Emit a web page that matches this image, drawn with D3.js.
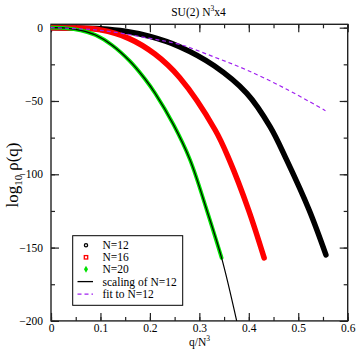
<!DOCTYPE html>
<html><head><meta charset="utf-8">
<script src="https://cdn.jsdelivr.net/npm/d3@7"></script>
<style>body{margin:0;background:#fff}svg{display:block}text{font-family:"Liberation Serif","Times New Roman",serif}</style>
</head><body>
<svg id="c" width="356" height="354"></svg>
<script>
// data
const n12 = [[0,0],[0.05,-0.2],[0.1,-0.8],[0.15,-2.5],[0.2,-6],[0.26,-13],[0.33,-26],[0.396,-44.8],[0.443,-67.5],[0.4765,-90.2],[0.522,-124.4],[0.556,-155]];
const n16 = [[0,0],[0.05,-0.3],[0.1,-1.5],[0.157,-7.3],[0.21,-18],[0.26,-34],[0.332,-69.8],[0.3606,-90.2],[0.3996,-124.4],[0.431,-157]];
const n20 = [[0,0],[0.03,-0.3],[0.06,-1.8],[0.09,-5],[0.123,-11.8],[0.16,-23],[0.19,-35],[0.2105,-44.7],[0.2475,-66],[0.281,-90],[0.315,-124.4],[0.345,-157]];
const scaling12 = [[0,0],[0.03,-0.3],[0.06,-1.8],[0.09,-5],[0.123,-11.8],[0.16,-23],[0.19,-35],[0.2105,-44.7],[0.2475,-66],[0.281,-90],[0.315,-124.4],[0.345,-157],[0.3755,-200]];
const fit12 = [[0,0],[0.1,-1.8],[0.2,-7.3],[0.261,-11.5],[0.33,-20],[0.396,-28.9],[0.4766,-42],[0.555,-56.6]];
const xTicks = [0,0.1,0.2,0.3,0.4,0.5,0.6];
const yTicks = [0,-50,-100,-150,-200];
const legendLabels = ["N=12","N=16","N=20","scaling of N=12","fit to N=12"];

const svg = d3.select("#c");
const L=51, R=347.7, T=24.3, B=320.9;
const x = d3.scaleLinear().domain([0,0.6]).range([L,R]);
const y = d3.scaleLinear().domain([-200,2.3]).range([B,T]);

svg.append("clipPath").attr("id","clip").append("rect").attr("x",L).attr("y",T).attr("width",R-L).attr("height",B-T);

// axes (inward ticks on all sides)
const axisCol="#222";
const xMinor = d3.range(0,0.6001,0.05);
const yMinor = d3.range(-200,0.001,25);
function styleAxis(g){g.select(".domain").remove();g.selectAll("line").attr("stroke",axisCol).attr("stroke-width",1.2);}
svg.append("g").attr("transform",`translate(0,${B})`).call(d3.axisBottom(x).tickValues(xMinor).tickSize(-4).tickFormat("")).call(styleAxis);
svg.append("g").attr("transform",`translate(0,${B})`).call(d3.axisBottom(x).tickValues(xTicks).tickSize(-8).tickPadding(3).tickFormat(d=>d===0?"0":d3.format(".1f")(d))).call(styleAxis)
  .selectAll("text").attr("font-size",11.5).attr("fill","#000");
svg.append("g").attr("transform",`translate(0,${T})`).call(d3.axisTop(x).tickValues(xMinor).tickSize(-4).tickFormat("")).call(styleAxis);
svg.append("g").attr("transform",`translate(0,${T})`).call(d3.axisTop(x).tickValues(xTicks).tickSize(-8).tickFormat("")).call(styleAxis);
svg.append("g").attr("transform",`translate(${L},0)`).call(d3.axisLeft(y).tickValues(yMinor).tickSize(-4).tickFormat("")).call(styleAxis);
svg.append("g").attr("transform",`translate(${L},0)`).call(d3.axisLeft(y).tickValues(yTicks).tickSize(-8).tickPadding(8).tickFormat(d3.format("d"))).call(styleAxis)
  .selectAll("text").attr("font-size",11.5).attr("fill","#000");
svg.append("g").attr("transform",`translate(${R},0)`).call(d3.axisRight(y).tickValues(yMinor).tickSize(-4).tickFormat("")).call(styleAxis);
svg.append("g").attr("transform",`translate(${R},0)`).call(d3.axisRight(y).tickValues(yTicks).tickSize(-8).tickFormat("")).call(styleAxis);
svg.append("rect").attr("x",L).attr("y",T).attr("width",R-L).attr("height",B-T).attr("fill","none").attr("stroke",axisCol).attr("stroke-width",1.4);

const line = d3.line().x(d=>x(d[0])).y(d=>y(d[1])).curve(d3.curveCatmullRom.alpha(0.5));
const g = svg.append("g").attr("clip-path","url(#clip)");
g.append("path").datum(n12).attr("d",line).attr("fill","none").attr("stroke","#000").attr("stroke-width",5.5).attr("stroke-linecap","round");
g.append("path").datum(n16).attr("d",line).attr("fill","none").attr("stroke","#ff0000").attr("stroke-width",5.5).attr("stroke-linecap","round");
g.append("path").datum(n20).attr("d",line).attr("fill","none").attr("stroke","#00e000").attr("stroke-width",3.8).attr("stroke-linecap","round");
g.append("path").datum(scaling12).attr("d",line).attr("fill","none").attr("stroke","#000").attr("stroke-width",1.2);
g.append("path").datum(fit12).attr("d",line).attr("fill","none").attr("stroke","#a020f0").attr("stroke-width",1.2).attr("stroke-dasharray","4,3");

// legend
const lg = svg.append("g");
lg.append("rect").attr("x",72.7).attr("y",235.7).attr("width",110).attr("height",69.6).attr("fill","#fff").attr("stroke","#000").attr("stroke-width",1);
const ly = [245.3,257.3,269.3,281.6,294.2];
lg.append("circle").attr("cx",86).attr("cy",ly[0]).attr("r",1.6).attr("fill","none").attr("stroke","#000").attr("stroke-width",1.3);
lg.append("rect").attr("x",84.3).attr("y",ly[1]-1.7).attr("width",3.4).attr("height",3.4).attr("fill","none").attr("stroke","#ff0000").attr("stroke-width",1.3);
lg.append("path").attr("d",d3.symbol(d3.symbolDiamond,14)()).attr("transform",`translate(86,${ly[2]})`).attr("fill","#00e000");
lg.append("line").attr("x1",77.5).attr("x2",93).attr("y1",ly[3]).attr("y2",ly[3]).attr("stroke","#000").attr("stroke-width",1.3);
lg.append("line").attr("x1",77.5).attr("x2",93).attr("y1",ly[4]).attr("y2",ly[4]).attr("stroke","#a020f0").attr("stroke-width",1.3).attr("stroke-dasharray","4,3");
legendLabels.forEach((t,i)=>lg.append("text").attr("x",102.5).attr("y",ly[i]).attr("dy","0.35em").attr("font-size",11.5).text(t));

// title
const title = svg.append("text").attr("x",198.5).attr("y",15.5).attr("text-anchor","middle").attr("font-size",11.5);
title.append("tspan").text("SU(2) N");
title.append("tspan").attr("dy",-5).attr("font-size",7.5).text("3");
title.append("tspan").attr("dy",5).text("x4");
// x label
const xl = svg.append("text").attr("x",199.5).attr("y",346).attr("text-anchor","middle").attr("font-size",11.5);
xl.append("tspan").text("q/N");
xl.append("tspan").attr("dy",-5).attr("font-size",7.5).text("3");
// y label
const yl = svg.append("text").attr("transform","translate(18,175) rotate(-90)").attr("text-anchor","middle").attr("font-size",17);
yl.append("tspan").text("log");
yl.append("tspan").attr("dy",4).attr("font-size",11).text("10");
yl.append("tspan").attr("dy",-4).attr("dx",4).text("ρ(q)");
</script>
</body></html>
